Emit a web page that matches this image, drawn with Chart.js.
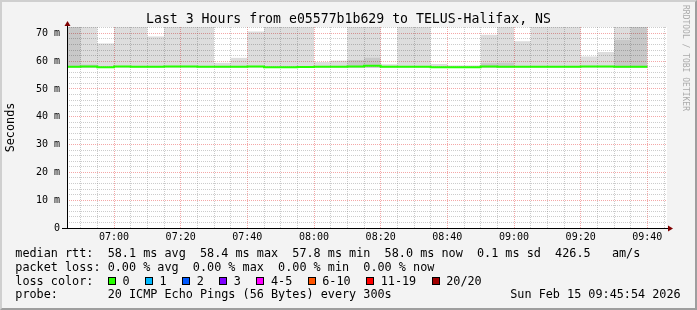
<!DOCTYPE html>
<html>
<head>
<meta charset="utf-8">
<title>SmokePing - TELUS-Halifax, NS</title>
<script src="https://cdn.jsdelivr.net/npm/chart.js@4.4.1/dist/chart.umd.min.js"></script>
<style>
  html, body { margin: 0; padding: 0; background: #f3f3f3; }
  #wrap { position: relative; width: 697px; height: 310px; background: #f3f3f3; overflow: hidden; }
  #c { position: absolute; left: 0; top: 0; }
  #frame { position: absolute; left: 0; top: 0; width: 697px; height: 310px; box-sizing: border-box;
           border-style: solid; border-width: 2px; border-color: #cfcfcf #9e9e9e #9e9e9e #cfcfcf; pointer-events: none; }
  .txt { position: absolute; font-family: "DejaVu Sans Mono", monospace; white-space: pre; color: #000; }
  #title { left: 0; width: 697px; top: 11.4px; text-align: center; font-size: 13.2px; line-height: 16px; }
  .leg { left: 15.3px; font-size: 11.8px; line-height: 13.8px; }
  #date { left: 0; width: 680.7px; text-align: right; font-size: 11.8px; line-height: 13.8px; }
  #wm { left: 681px; top: 5px; font-size: 8px; line-height: 8px; color: #ababab; writing-mode: vertical-rl; }
  #lossRow { position: absolute; left: 108px; top: 274.6px; display: flex; align-items: center;
             font-family: "DejaVu Sans Mono", monospace; font-size: 11.8px; line-height: 13.8px; white-space: pre; }
  .box { display: inline-block; width: 8px; height: 8px; box-sizing: border-box; border: 1px solid #000; margin-right: 6.5px; }
  .lab { margin-right: 15.5px; }
</style>
</head>
<body>
<div id="wrap">
  <canvas id="c" width="697" height="310"></canvas>
  <div id="title" class="txt"></div>
  <div id="wm" class="txt">RRDTOOL / TOBI OETIKER</div>
  <div id="l1" class="txt leg" style="top:247.3px"></div>
  <div id="l2" class="txt leg" style="top:260.9px"></div>
  <div id="l3" class="txt leg" style="top:274.6px"></div>
  <div id="lossRow"></div>
  <div id="l4" class="txt leg" style="top:288.3px"></div>
  <div id="date" class="txt" style="top:288.3px"></div>
  <div id="frame"></div>
</div>
<script>
// ---------------- data ----------------
const titleText = 'Last 3 Hours from e05577b1b629 to TELUS-Halifax, NS';
const yAxisTitle = 'Seconds';
const windowStart = '06:45:54';
const windowEnd = '09:45:54';
const stepMinutes = 5;

// 5-minute bins (start time of each bin)
const binStarts = ['06:45','06:50','06:55','07:00','07:05','07:10','07:15','07:20','07:25','07:30',
                   '07:35','07:40','07:45','07:50','07:55','08:00','08:05','08:10','08:15','08:20',
                   '08:25','08:30','08:35','08:40','08:45','08:50','08:55','09:00','09:05','09:10',
                   '09:15','09:20','09:25','09:30','09:35'];

// median RTT per bin (ms)
const medianRtt = [58.0, 58.1, 57.8, 58.1, 58.0, 58.0, 58.1, 58.1, 58.0, 58.0,
                   58.0, 58.1, 57.8, 57.8, 57.9, 58.0, 58.0, 58.1, 58.4, 58.0,
                   58.0, 58.0, 57.8, 57.8, 57.8, 58.1, 58.0, 58.0, 58.0, 58.0,
                   58.0, 58.1, 58.1, 58.0, 58.0];

// outer (light) smoke band per bin [low, high] in ms (72.3 = clipped at top)
const smokeOuter = [null, [58.8,72.3], [57.6,66.4], [57.6,72.3], [57.6,72.3], [57.6,68.9], [57.6,72.3], [57.6,72.3], [57.6,72.3], [57.6,59.4],
                    [57.6,61.2], [57.6,70.7], [57.6,72.3], [57.6,72.3], [57.6,72.3], [57.6,59.7], [57.6,60.2], [60.4,72.3], [61.3,72.3], [57.6,58.9],
                    [57.6,72.3], [57.6,72.3], [57.6,59.0], [57.6,58.5], [57.6,58.5], [59.3,69.5], [59.5,72.3], [57.6,67.2], [57.6,72.3], [57.6,72.3],
                    [57.6,72.3], [57.6,61.7], [57.6,63.3], [67.7,72.3], null];

// inner (dark) smoke band per bin [low, high] in ms
const smokeInner = [[57.6,72.3], [57.6,58.8], null, null, null, null, null, null, null, null,
                    null, null, null, null, null, null, null, [57.6,60.4], [57.6,61.3], null,
                    null, null, null, null, null, [57.6,59.3], [57.6,59.5], null, null, null,
                    null, null, null, [57.6,67.7], [57.6,72.3]];

const xTickLabels = ['07:00','07:20','07:40','08:00','08:20','08:40','09:00','09:20','09:40'];
const yTickValues = [0, 10, 20, 30, 40, 50, 60, 70];
const yTickLabels = ['0', '10 m', '20 m', '30 m', '40 m', '50 m', '60 m', '70 m'];
const yMax = 72.3;

const rttLine   = 'median rtt:  58.1 ms avg  58.4 ms max  57.8 ms min  58.0 ms now  0.1 ms sd  426.5   am/s';
const lossLine  = 'packet loss: 0.00 % avg  0.00 % max  0.00 % min  0.00 % now';
const lossTitle = 'loss color:';
const lossLabels = ['0', '1', '2', '3', '4-5', '6-10', '11-19', '20/20'];
const lossColors = ['#26ff00', '#00b8ff', '#0059ff', '#7e00ff', '#ff00ff', '#ff5500', '#ff0000', '#a10000'];
const probeLine = 'probe:       20 ICMP Echo Pings (56 Bytes) every 300s';
const dateText  = 'Sun Feb 15 09:45:54 2026';

// ---------------- text ----------------
document.getElementById('title').textContent = titleText;
document.getElementById('l1').textContent = rttLine;
document.getElementById('l2').textContent = lossLine;
document.getElementById('l3').textContent = lossTitle;
document.getElementById('l4').textContent = probeLine;
document.getElementById('date').textContent = dateText;
const row = document.getElementById('lossRow');
lossLabels.forEach((lab, i) => {
  const b = document.createElement('span'); b.className = 'box'; b.style.background = lossColors[i];
  const t = document.createElement('span'); t.className = 'lab'; t.textContent = lab;
  row.appendChild(b); row.appendChild(t);
});

// ---------------- chart ----------------
const toMin = s => { const p = s.split(':').map(Number); return p[0] * 60 + p[1] + (p[2] || 0) / 60; };
const xMin = toMin(windowStart), xMax = toMin(windowEnd);
const xMajor = xTickLabels.map(toMin);

const xGrid = []; for (let v = Math.ceil(xMin / stepMinutes) * stepMinutes; v <= xMax; v += stepMinutes) xGrid.push(v);
const yGrid = []; for (let v = 0; v <= yMax; v += 2) yGrid.push(v);

const outerData = [], innerData = [], medianData = [];
binStarts.forEach((t, i) => {
  const s = toMin(t), c = s + stepMinutes / 2;
  if (smokeOuter[i]) outerData.push({x: c, y: smokeOuter[i]});
  if (smokeInner[i]) innerData.push({x: c, y: smokeInner[i]});
  medianData.push({x: s, y: medianRtt[i]}, {x: s + stepMinutes, y: medianRtt[i]});
});

const MINOR = 'rgba(128,128,128,0.40)';
const MAJOR = 'rgba(230,60,60,0.45)';
const FONT = 'DejaVu Sans Mono';

const framePlugin = {
  id: 'rrdFrame',
  beforeDraw(chart) {
    const {ctx, chartArea: a} = chart;
    ctx.save();
    ctx.fillStyle = '#ffffff';
    ctx.fillRect(a.left, a.top, a.right - a.left, a.bottom - a.top);
    ctx.restore();
  },
  afterDraw(chart) {
    const {ctx, chartArea: a} = chart;
    ctx.save();
    ctx.strokeStyle = '#000'; ctx.lineWidth = 1;
    ctx.beginPath();
    ctx.moveTo(a.left - 5, Math.round(a.bottom) + 0.5); ctx.lineTo(a.right + 2, Math.round(a.bottom) + 0.5);
    ctx.moveTo(Math.round(a.left) + 0.5, a.bottom); ctx.lineTo(Math.round(a.left) + 0.5, a.top - 2);
    ctx.stroke();
    ctx.fillStyle = '#7f0000';
    const ax = Math.round(a.left) + 0.5;
    ctx.beginPath(); ctx.moveTo(ax - 3, a.top - 1); ctx.lineTo(ax + 3, a.top - 1); ctx.lineTo(ax, a.top - 6); ctx.closePath(); ctx.fill();
    const by = Math.round(a.bottom) + 0.5;
    ctx.beginPath(); ctx.moveTo(a.right + 1, by - 3); ctx.lineTo(a.right + 1, by + 3); ctx.lineTo(a.right + 6, by); ctx.closePath(); ctx.fill();
    ctx.restore();
  }
};

const barCommon = { type: 'bar', barPercentage: 1, categoryPercentage: 1, grouped: false, borderWidth: 0, inflateAmount: 0, clip: 0 };

new Chart(document.getElementById('c'), {
  type: 'bar',
  data: {
    datasets: [
      { type: 'line', label: 'median rtt', data: medianData, borderColor: '#26ff00', borderWidth: 2,
        pointRadius: 0, fill: false, tension: 0, clip: 0, order: 0, borderJoinStyle: 'miter' },
      Object.assign({ label: 'smoke inner', data: innerData, backgroundColor: 'rgba(0,0,0,0.215)', order: 1 }, barCommon),
      Object.assign({ label: 'smoke outer', data: outerData, backgroundColor: 'rgba(0,0,0,0.133)', order: 2 }, barCommon)
    ]
  },
  options: {
    responsive: false, devicePixelRatio: 1, animation: false,
    layout: { padding: { left: 0, right: 30, top: 27, bottom: 60 } },
    plugins: { legend: { display: false }, tooltip: { enabled: false }, title: { display: false } },
    scales: {
      x: {
        type: 'linear', min: xMin, max: xMax, offset: false,
        afterBuildTicks: s => { s.ticks = xGrid.map(v => ({value: v})); },
        afterFit: s => { s.height = 22; },
        ticks: { autoSkip: false, maxRotation: 0, minRotation: 0, padding: 3, color: '#000',
                 font: { family: FONT, size: 10 },
                 callback: v => { const k = xMajor.indexOf(v); return k >= 0 ? xTickLabels[k] : ''; } },
        grid: { offset: false, drawTicks: false, lineWidth: 1,
                color: c => (xMajor.indexOf(c.tick && c.tick.value) >= 0 ? MAJOR : MINOR) },
        border: { display: false, dash: [1, 1] }
      },
      y: {
        type: 'linear', min: 0, max: yMax,
        afterBuildTicks: s => { s.ticks = yGrid.map(v => ({value: v})); },
        afterFit: s => { s.width = 67; },
        ticks: { autoSkip: false, padding: 7, color: '#000', font: { family: FONT, size: 10 },
                 callback: v => { const k = yTickValues.indexOf(v); return k >= 0 ? yTickLabels[k] : ''; } },
        grid: { drawTicks: false, lineWidth: 1,
                color: c => (yTickValues.indexOf(c.tick && c.tick.value) >= 0 ? MAJOR : MINOR) },
        border: { display: false, dash: [1, 1] },
        title: { display: true, text: yAxisTitle, color: '#000', font: { family: FONT, size: 11.8 },
                 padding: { top: 3.7, bottom: 0 } }
      }
    }
  },
  plugins: [framePlugin]
});
</script>
</body>
</html>
